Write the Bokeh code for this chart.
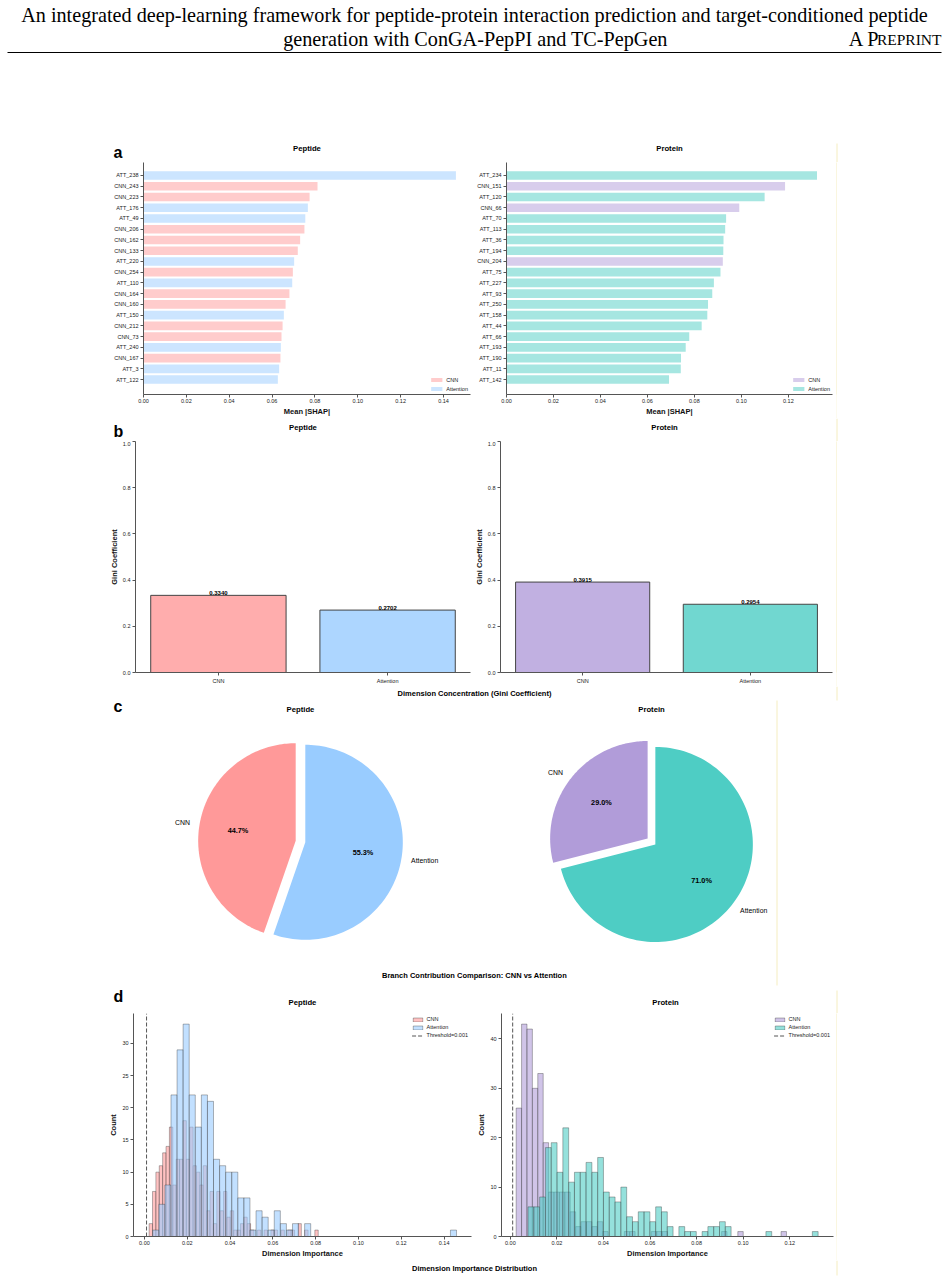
import numpy as np
from bokeh.plotting import figure
from bokeh.layouts import column, row
from bokeh.models import Range1d, FixedTicker, PrintfTickFormatter, Spacer
from bokeh.core.properties import value
from bokeh.embed import file_html
from bokeh.resources import INLINE

SANS = "Liberation Sans"
SERIF = "Liberation Serif"

# ---------------- data ----------------
header_line1 = ("An integrated deep-learning framework for peptide-protein interaction "
                "prediction and target-conditioned peptide")
header_line2 = "generation with ConGA-PepPI and TC-PepGen"

branches = ["CNN", "Attention"]
branch_prefix = ["CNN", "ATT"]
panel_titles = ["Peptide", "Protein"]
pep_colors = ["#FF9999", "#99CCFF"]
prot_colors = ["#B19CD9", "#4ECDC4"]

pep_features = ["ATT_238", "CNN_243", "CNN_223", "ATT_176", "ATT_49", "CNN_206", "CNN_162",
                "CNN_133", "ATT_220", "CNN_254", "ATT_110", "CNN_164", "CNN_160", "ATT_150",
                "CNN_212", "CNN_73", "ATT_240", "CNN_167", "ATT_3", "ATT_122"]
pep_shap = [0.1458, 0.0812, 0.0775, 0.0767, 0.0755, 0.0751, 0.0731, 0.0720, 0.0703, 0.0697,
            0.0694, 0.0681, 0.0663, 0.0655, 0.0649, 0.0644, 0.0641, 0.0639, 0.0633, 0.0627]
prot_features = ["ATT_234", "CNN_151", "ATT_120", "CNN_66", "ATT_70", "ATT_113", "ATT_36",
                 "ATT_194", "CNN_204", "ATT_75", "ATT_227", "ATT_93", "ATT_250", "ATT_158",
                 "ATT_44", "ATT_66", "ATT_193", "ATT_190", "ATT_11", "ATT_142"]
prot_shap = [0.1322, 0.1186, 0.1099, 0.0991, 0.0935, 0.0931, 0.0924, 0.0923, 0.0921, 0.0911,
             0.0883, 0.0876, 0.0858, 0.0855, 0.0831, 0.0778, 0.0763, 0.0743, 0.0742, 0.0692]
shap_ticks_pep = [0.00, 0.02, 0.04, 0.06, 0.08, 0.10, 0.12, 0.14]
shap_ticks_prot = [0.00, 0.02, 0.04, 0.06, 0.08, 0.10, 0.12]

gini_pep = [0.3340, 0.2702]
gini_prot = [0.3915, 0.2954]
gini_ticks = [0.0, 0.2, 0.4, 0.6, 0.8, 1.0]

contrib_pep = [44.7, 55.3]
contrib_prot = [29.0, 71.0]

hist_threshold = 0.001
pep_cnn_range = (0.0022, 0.0812)
pep_cnn_counts = [2, 7, 10, 11, 13, 14, 17, 8, 12, 12, 18, 12, 17, 11, 10, 8, 11, 4, 7, 2,
                  7, 4, 7, 3, 4, 1, 1, 2, 3, 2, 1, 0, 1, 0, 1, 0, 1, 1, 0, 1,
                  0, 1, 1, 0, 2, 0, 1, 0, 0, 1]
pep_att_range = (0.0039, 0.1458)
pep_att_counts = [1, 5, 8, 22, 29, 33, 22, 17, 22, 21, 12, 11, 10, 10, 6, 6, 1, 4, 3, 1,
                  4, 2, 1, 2, 0, 2, 0, 0, 0, 0, 0, 0, 0, 0, 0, 0, 0, 0, 0, 0,
                  0, 0, 0, 0, 0, 0, 0, 0, 0, 1]
prot_cnn_range = (0.0025, 0.1186)
prot_cnn_counts = [26, 43, 42, 30, 33, 19, 9, 9, 9, 9, 5, 2, 3, 3, 2, 3, 1, 0, 0, 0,
                   1, 1, 0, 0, 0, 1, 1, 1, 0, 0, 0, 0, 0, 0, 0, 0, 0, 0, 1, 0,
                   0, 1, 0, 0, 0, 0, 0, 0, 0, 1]
prot_att_range = (0.0076, 0.1322)
prot_att_counts = [6, 6, 8, 18, 19, 13, 22, 11, 13, 13, 15, 13, 16, 9, 8, 7, 10, 4, 3, 5,
                   5, 3, 6, 5, 2, 0, 2, 1, 1, 0, 1, 2, 2, 3, 2, 0, 0, 0, 0, 0,
                   0, 1, 0, 0, 0, 0, 0, 0, 0, 1]
hist_xticks_pep = [0.00, 0.02, 0.04, 0.06, 0.08, 0.10, 0.12, 0.14]
hist_xticks_prot = [0.00, 0.02, 0.04, 0.06, 0.08, 0.10, 0.12]
hist_yticks_pep = [0, 5, 10, 15, 20, 25, 30]
hist_yticks_prot = [0, 10, 20, 30, 40]

YELLOW = "#f5edc0"
AXC = "#555555"


# ---------------- helpers ----------------
def base_fig(width, height, bl, br, bb, x_range, y_range):
    p = figure(width=width, height=height, x_range=x_range, y_range=y_range,
               min_border_left=bl, min_border_right=br, min_border_top=0, min_border_bottom=bb,
               output_backend="svg", toolbar_location=None)
    p.outline_line_color = None
    p.grid.visible = False
    for ax in p.axis:
        ax.axis_line_color = AXC
        ax.axis_line_width = 1
        ax.major_tick_line_color = AXC
        ax.major_tick_out = 3
        ax.major_tick_in = 0
        ax.minor_tick_line_color = None
        ax.major_label_text_font = SANS
        ax.major_label_text_font_size = "5.5px"
        ax.major_label_text_color = "#222222"
        ax.major_label_standoff = 2
        ax.axis_label_text_font = SANS
        ax.axis_label_text_font_size = "7.5px"
        ax.axis_label_text_font_style = "bold"
        ax.axis_label_text_color = "#111111"
        ax.axis_label_standoff = 2
    return p


def style_legend(p, location, margin, label_height, spacing, glyph_width):
    lg = p.legend[0]
    lg.location = location
    lg.label_text_font = SANS
    lg.label_text_font_size = "5.5px"
    lg.label_text_color = "#222222"
    lg.label_height = label_height
    lg.glyph_height = 5
    lg.glyph_width = glyph_width
    lg.spacing = spacing
    lg.padding = 1
    lg.margin = margin
    lg.label_standoff = 3
    lg.border_line_color = None
    lg.background_fill_alpha = 0


def canvas(width, height):
    p = figure(width=width, height=height, x_range=Range1d(0, width), y_range=Range1d(height, 0),
               min_border=0, x_axis_type=None, y_axis_type=None,
               output_backend="svg", toolbar_location=None)
    p.outline_line_color = None
    p.grid.visible = False
    return p


def vline_fig(height):
    p = figure(width=1, height=height, x_range=Range1d(0, 1), y_range=Range1d(0, 1),
               min_border=0, x_axis_type=None, y_axis_type=None,
               output_backend="svg", toolbar_location=None)
    p.outline_line_color = None
    p.grid.visible = False
    p.background_fill_color = YELLOW
    p.border_fill_color = YELLOW
    return p


def ctext(p, x, y, text, size, bold=False, align="center", baseline="middle", font=SANS):
    p.text(x=[x], y=[y], text=[text], text_font=value(font), text_font_size=size,
           text_font_style="bold" if bold else "normal", text_align=align,
           text_baseline=baseline, text_color="black")


def panel_letter(p, ch, y_mid):
    ctext(p, 113, y_mid, ch, "16px", bold=True, align="left", baseline="middle")


def ylines(p, segs):
    p.segment(x0=[s[0] for s in segs], y0=[s[1] for s in segs],
              x1=[s[0] for s in segs], y1=[s[2] for s in segs],
              line_color=YELLOW, line_width=1)


def strip_titles(p, y, centers):
    for cx, t in zip(centers, panel_titles):
        ctext(p, cx, y, t, "7.7px", bold=True)


# ---------------- header + panel a titles (page y 0..162) ----------------
hdr = canvas(948, 162)
ctext(hdr, 474, 14, header_line1, "20.2px", font=SERIF)
ctext(hdr, 475, 38, header_line2, "20.2px", font=SERIF)
ctext(hdr, 879, 38, "A P", "20.2px", align="right", font=SERIF)
ctext(hdr, 941, 39, "REPRINT", "15.5px", align="right", font=SERIF)
hdr.segment(x0=[7], y0=[52], x1=[941], y1=[52], line_color="black", line_width=1)
strip_titles(hdr, 148, [306.5, 669])
panel_letter(hdr, "a", 151.5)
ylines(hdr, [(836.5, 143, 162)])


# ---------------- panel a (page y 162..418) ----------------
def shap_panel(features, vals, colors, width, bl, br, xmax, ticks):
    n = len(features)
    p = base_fig(width, 256, bl, br, 21, Range1d(0, xmax), Range1d(-1.39, n - 1 + 1.21))
    ypos = {f: n - 1 - i for i, f in enumerate(features)}
    for b, pre, c in zip(branches, branch_prefix, colors):
        ys = [ypos[f] for f in features if f.startswith(pre)]
        xs = [v for f, v in zip(features, vals) if f.startswith(pre)]
        p.hbar(y=ys, right=xs, left=0, height=0.8, fill_color=c, fill_alpha=0.5,
               line_color=None, legend_label=b)
    p.yaxis.ticker = FixedTicker(ticks=list(range(n)))
    p.yaxis.major_label_overrides = {ypos[f]: f for f in features}
    p.xaxis.ticker = FixedTicker(ticks=ticks)
    p.xaxis.formatter = PrintfTickFormatter(format="%.2f")
    p.xaxis.axis_label = "Mean |SHAP|"
    p.xaxis.major_label_standoff = 1
    p.xaxis.axis_label_standoff = 1
    style_legend(p, "bottom_right", 2, 7, 2, 14)
    return p


a_left = shap_panel(pep_features, pep_shap, pep_colors, 474, 143, 4, 0.1526, shap_ticks_pep)
a_right = shap_panel(prot_features, prot_shap, prot_colors, 362, 32, 4, 0.1388, shap_ticks_prot)
row_a = row(a_left, a_right, vline_fig(256), Spacer(width=111, height=256))

# ---------------- panel b titles (page y 418..441) ----------------
strip_b = canvas(948, 23)
strip_titles(strip_b, 9, [302.5, 664])
panel_letter(strip_b, "b", 12.5)
ylines(strip_b, [(836.5, 0, 23)])


# ---------------- panel b (page y 441..686) ----------------
def gini_panel(vals, colors, width, bl, br):
    p = base_fig(width, 245, bl, br, 14, Range1d(-0.49, 1.49), Range1d(0, 1))
    xs = list(range(len(branches)))
    p.vbar(x=xs, top=vals, bottom=0, width=0.8, fill_color=colors, fill_alpha=0.8,
           line_color="#444444", line_width=1)
    p.text(x=xs, y=vals, text=[f"{v:.4f}" for v in vals], text_font=value(SANS),
           text_font_size="6px", text_font_style="bold", text_align="center",
           text_baseline="bottom", text_color="black")
    p.xaxis.ticker = FixedTicker(ticks=xs)
    p.xaxis.major_label_overrides = {i: b for i, b in enumerate(branches)}
    p.yaxis.ticker = FixedTicker(ticks=gini_ticks)
    p.yaxis.formatter = PrintfTickFormatter(format="%.1f")
    p.yaxis.axis_label = "Gini Coefficient"
    p.yaxis.axis_label_standoff = 1
    return p


b_left = gini_panel(gini_pep, pep_colors, 471, 135, 1)
b_right = gini_panel(gini_prot, prot_colors, 365, 25, 4)
row_b = row(b_left, b_right, vline_fig(245), Spacer(width=111, height=245))


# ---------------- panel c pies + panel d titles (page y 686..1013) ----------------
c_fig = canvas(948, 327)
ctext(c_fig, 474, 7, "Dimension Concentration (Gini Coefficient)", "7.5px", bold=True)
panel_letter(c_fig, "c", 20)
ylines(c_fig, [(836.5, 0, 14), (776.5, 14, 299), (836.5, 304, 327)])


def pie(p, shares, colors, cx, cy, r, title, explode=0.05):
    ctext(p, cx, 23, title, "7.7px", bold=True)
    total = float(sum(shares))
    t1 = 90.0
    for s, c, lab in zip(shares, colors, branches):
        t2 = t1 + 360.0 * s / total
        tm = np.deg2rad((t1 + t2) / 2)
        ox = cx + explode * r * np.cos(tm)
        oy = cy - explode * r * np.sin(tm)
        ang = np.deg2rad(np.linspace(t1, t2, 120))
        xs = [ox] + list(ox + r * np.cos(ang))
        ys = [oy] + list(oy - r * np.sin(ang))
        p.patch(x=xs, y=ys, fill_color=c, line_color=None)
        lx = ox + 1.1 * r * np.cos(tm)
        ly = oy - 1.1 * r * np.sin(tm)
        ctext(p, lx, ly, lab, "6.9px", align="left" if np.cos(tm) > 0 else "right")
        px = ox + 0.6 * r * np.cos(tm)
        py = oy - 0.6 * r * np.sin(tm)
        ctext(p, px, py, f"{s:.1f}%", "7.3px", bold=True)
        t1 = t2


pie(c_fig, contrib_pep, pep_colors, 300, 155, 97.5, "Peptide")
pie(c_fig, contrib_prot, prot_colors, 651, 155, 97.5, "Protein")
ctext(c_fig, 474, 289, "Branch Contribution Comparison: CNN vs Attention", "7.5px", bold=True)
strip_titles(c_fig, 316, [302, 665])
panel_letter(c_fig, "d", 310)


# ---------------- panel d (page y 1013..1260) ----------------
def hist_panel(series, colors, width, bl, br, xr, ymax, xticks, yticks):
    p = base_fig(width, 247, bl, br, 22, Range1d(*xr), Range1d(0, ymax))
    for (rng, counts), c, b in zip(series, colors, branches):
        edges = np.linspace(rng[0], rng[1], len(counts) + 1)
        p.quad(left=edges[:-1], right=edges[1:], bottom=0, top=counts, fill_color=c,
               fill_alpha=0.6, line_color="#333333", line_alpha=0.45, line_width=0.8,
               legend_label=b)
    p.line(x=[hist_threshold, hist_threshold], y=[0, ymax], line_dash="4 2",
           line_color="#555555", line_width=1, legend_label=f"Threshold={hist_threshold}")
    p.xaxis.ticker = FixedTicker(ticks=xticks)
    p.xaxis.formatter = PrintfTickFormatter(format="%.2f")
    p.yaxis.ticker = FixedTicker(ticks=yticks)
    p.xaxis.axis_label = "Dimension Importance"
    p.yaxis.axis_label = "Count"
    p.xaxis.major_label_standoff = 1
    p.xaxis.axis_label_standoff = 1
    p.yaxis.axis_label_standoff = 1
    style_legend(p, "top_right", 3, 6, 2, 12)
    return p


d_left = hist_panel([(pep_cnn_range, pep_cnn_counts), (pep_att_range, pep_att_counts)],
                    pep_colors, 474, 133, 3, (-0.0051, 0.1528), 34.65,
                    hist_xticks_pep, hist_yticks_pep)
d_right = hist_panel([(prot_cnn_range, prot_cnn_counts), (prot_att_range, prot_att_counts)],
                     prot_colors, 362, 23, 3, (-0.0038, 0.1388), 45.15,
                     hist_xticks_prot, hist_yticks_prot)
row_d = row(d_left, d_right, vline_fig(247), Spacer(width=111, height=247))

strip_d = canvas(948, 23)
ctext(strip_d, 474, 8, "Dimension Importance Distribution", "7.5px", bold=True)
ylines(strip_d, [(836.5, 0, 15)])

page = column(hdr, row_a, strip_b, row_b, c_fig, row_d, strip_d)

with open("out.html", "w") as fh:
    fh.write(file_html(page, INLINE, title="figure"))
